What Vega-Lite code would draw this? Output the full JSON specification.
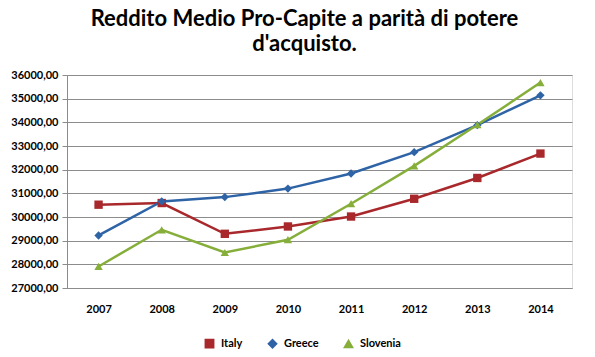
{
  "$schema": "https://vega.github.io/schema/vega-lite/v6.json",
  "autosize": {"type": "none"},
  "width": 505,
  "height": 213,
  "padding": {"left": 67, "top": 75, "right": 23, "bottom": 69},
  "background": "white",
  "title": {
    "text": ["Reddito Medio Pro-Capite a parità di potere", "d'acquisto."],
    "font": "Lato",
    "fontSize": 22,
    "fontWeight": "bold",
    "color": "#000000",
    "anchor": "middle",
    "frame": "group",
    "dx": -15,
    "offset": 13,
    "lineHeight": 25
  },
  "data": {
    "values": [
      {"year": "2007", "country": "Italy", "value": 30520},
      {"year": "2008", "country": "Italy", "value": 30590},
      {"year": "2009", "country": "Italy", "value": 29290},
      {"year": "2010", "country": "Italy", "value": 29600},
      {"year": "2011", "country": "Italy", "value": 30020},
      {"year": "2012", "country": "Italy", "value": 30770},
      {"year": "2013", "country": "Italy", "value": 31650},
      {"year": "2014", "country": "Italy", "value": 32680},
      {"year": "2007", "country": "Greece", "value": 29220},
      {"year": "2008", "country": "Greece", "value": 30660},
      {"year": "2009", "country": "Greece", "value": 30840},
      {"year": "2010", "country": "Greece", "value": 31200},
      {"year": "2011", "country": "Greece", "value": 31840},
      {"year": "2012", "country": "Greece", "value": 32740},
      {"year": "2013", "country": "Greece", "value": 33880},
      {"year": "2014", "country": "Greece", "value": 35140},
      {"year": "2007", "country": "Slovenia", "value": 27910},
      {"year": "2008", "country": "Slovenia", "value": 29460},
      {"year": "2009", "country": "Slovenia", "value": 28500},
      {"year": "2010", "country": "Slovenia", "value": 29040},
      {"year": "2011", "country": "Slovenia", "value": 30560},
      {"year": "2012", "country": "Slovenia", "value": 32160},
      {"year": "2013", "country": "Slovenia", "value": 33900},
      {"year": "2014", "country": "Slovenia", "value": 35680}
    ]
  },
  "encoding": {
    "x": {
      "field": "year",
      "type": "ordinal",
      "scale": {"type": "point", "padding": 0.5},
      "axis": {
        "title": null,
        "labelAngle": 0,
        "labelFont": "Lato",
        "labelFontSize": 11,
        "labelFontWeight": "bold",
        "labelColor": "#000000",
        "ticks": false,
        "labelPadding": 15,
        "domainColor": "#8c8c8c",
        "domainWidth": 1,
        "grid": false
      }
    },
    "y": {
      "field": "value",
      "type": "quantitative",
      "scale": {"domain": [27000, 36000], "nice": false, "zero": false},
      "axis": {
        "title": null,
        "values": [27000, 28000, 29000, 30000, 31000, 32000, 33000, 34000, 35000, 36000],
        "labelExpr": "replace(format(datum.value, '.2f'), '.', ',')",
        "labelFont": "Lato",
        "labelFontSize": 11,
        "labelFontWeight": "bold",
        "labelColor": "#000000",
        "tickSize": 5,
        "tickColor": "#8c8c8c",
        "labelPadding": 4,
        "domainColor": "#8c8c8c",
        "grid": true,
        "gridColor": "#8c8c8c",
        "gridWidth": 1
      }
    },
    "color": {"field": "country", "type": "nominal",
      "scale": {"domain": ["Italy", "Greece", "Slovenia"], "range": ["#A8282C", "#2E63A6", "#86AE3A"]},
      "legend": {
        "title": null,
        "orient": "none",
        "direction": "horizontal",
        "legendX": 137,
        "legendY": 263,
        "labelFont": "Lato",
        "labelFontSize": 11,
        "labelFontWeight": "bold",
        "labelColor": "#000000",
        "symbolSize": 70,
        "labelOffset": 6,
        "columnPadding": 22
      }
    }
  },
  "layer": [
    {
      "mark": {"type": "line", "strokeWidth": 2.5}
    },
    {
      "mark": {"type": "point", "filled": true, "opacity": 1, "size": 70},
      "encoding": {
        "shape": {
          "field": "country",
          "type": "nominal",
          "scale": {"domain": ["Italy", "Greece", "Slovenia"], "range": ["square", "diamond", "triangle-up"]},
          "legend": {
            "title": null,
            "orient": "none",
            "direction": "horizontal",
            "legendX": 137,
            "legendY": 263,
            "labelFont": "Lato",
            "labelFontSize": 11,
            "labelFontWeight": "bold",
            "labelColor": "#000000",
            "symbolSize": 70,
            "labelOffset": 6,
            "columnPadding": 22
          }
        }
      }
    }
  ]
}
